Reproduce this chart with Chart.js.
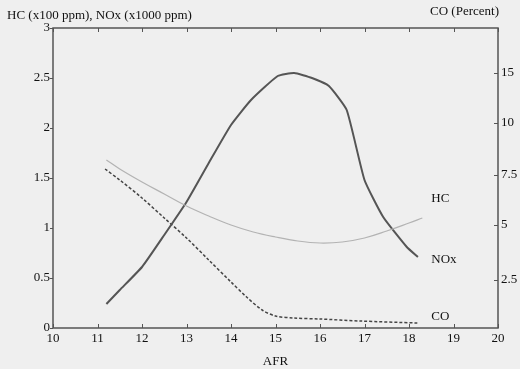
<!DOCTYPE html>
<html>
<head>
<meta charset="utf-8">
<script src="https://cdn.jsdelivr.net/npm/chart.js@4.4.1/dist/chart.umd.min.js"></script>
<style>
  html, body { margin: 0; padding: 0; background: #efefef; }
  canvas { display: block; }
</style>
</head>
<body>
<canvas id="afrChart" width="520" height="369"></canvas>
<script>
// values
const noxAfr = [11.2, 11.5, 12, 12.5, 13, 13.5, 14, 14.45, 15.05, 15.42, 15.82, 16.2, 16.6, 17, 17.42, 17.95, 18.2];
const noxVals = [0.24, 0.38, 0.61, 0.93, 1.26, 1.65, 2.03, 2.28, 2.52, 2.55, 2.50, 2.42, 2.18, 1.48, 1.11, 0.81, 0.71];

const hcAfr = [11.2, 11.5, 12, 12.5, 13, 13.5, 14, 14.5, 15, 15.5, 16, 16.5, 17, 17.5, 18, 18.3];
const hcVals = [1.68, 1.59, 1.46, 1.34, 1.22, 1.12, 1.03, 0.96, 0.91, 0.87, 0.85, 0.86, 0.90, 0.97, 1.05, 1.10];

// CO drawn against the right-hand axis (same height as the left one)
const coAfr = [11.17, 11.5, 12, 12.5, 13, 13.5, 14, 14.35, 14.7, 15, 15.4, 16, 16.9, 18.2];
const coVals = [1.59, 1.48, 1.30, 1.10, 0.90, 0.68, 0.46, 0.31, 0.18, 0.12, 0.10, 0.09, 0.07, 0.05];

const coTickAt = [0.48, 1.03, 1.53, 2.05, 2.55];
const coTickLabels = ['2.5', '5', '7.5', '10', '15'];

const toPoints = (xs, ys) => xs.map((x, i) => ({ x: x, y: ys[i] }));

const serif = 'Liberation Serif, Times New Roman, serif';
const ink = '#111';

const decor = {
  id: 'decor',
  beforeDraw(chart) {
    const ctx = chart.ctx;
    ctx.save();
    ctx.fillStyle = '#efefef';
    ctx.fillRect(0, 0, chart.width, chart.height);
    ctx.restore();
  },
  afterDraw(chart) {
    const ctx = chart.ctx;
    const a = chart.chartArea;
    const sx = chart.scales.x, sy = chart.scales.y, s2 = chart.scales.y2;
    ctx.save();
    ctx.strokeStyle = '#555';
    ctx.lineWidth = 1.5;
    ctx.strokeRect(a.left, a.top, a.right - a.left, a.bottom - a.top);

    ctx.lineWidth = 1;
    ctx.beginPath();
    sx.ticks.forEach(t => {
      const px = Math.round(sx.getPixelForValue(t.value)) + 0.5;
      ctx.moveTo(px, a.bottom); ctx.lineTo(px, a.bottom - 4);
      ctx.moveTo(px, a.top); ctx.lineTo(px, a.top + 4);
    });
    sy.ticks.forEach(t => {
      const py = Math.round(sy.getPixelForValue(t.value)) + 0.5;
      ctx.moveTo(a.left, py); ctx.lineTo(a.left - 3, py);
    });
    s2.ticks.forEach(t => {
      const py = Math.round(s2.getPixelForValue(t.value)) + 0.5;
      ctx.moveTo(a.right, py); ctx.lineTo(a.right - 4, py);
    });
    ctx.stroke();

    ctx.fillStyle = ink;
    ctx.font = '13px ' + serif;
    ctx.textBaseline = 'middle';
    ctx.textAlign = 'left';
    ctx.fillText('HC (x100 ppm), NOx (x1000 ppm)', 7, 16);
    ctx.textAlign = 'right';
    ctx.fillText('CO (Percent)', 499, 12);
    ctx.textAlign = 'center';
    ctx.fillText('AFR', (a.left + a.right) / 2, 362);

    // series names next to the curve ends
    ctx.textAlign = 'left';
    const lx = sx.getPixelForValue(18.5);
    ctx.fillText('HC', lx, sy.getPixelForValue(1.29));
    ctx.fillText('NOx', lx, sy.getPixelForValue(0.68));
    ctx.fillText('CO', lx, sy.getPixelForValue(0.11));
    ctx.restore();
  }
};

new Chart(document.getElementById('afrChart').getContext('2d'), {
  type: 'line',
  data: {
    datasets: [
      {
        label: 'HC',
        data: toPoints(hcAfr, hcVals),
        borderColor: '#b3b3b3',
        borderWidth: 1.2,
        pointRadius: 0,
        tension: 0.4,
        yAxisID: 'y'
      },
      {
        label: 'NOx',
        data: toPoints(noxAfr, noxVals),
        borderColor: '#555',
        borderWidth: 2,
        pointRadius: 0,
        tension: 0.15,
        yAxisID: 'y'
      },
      {
        label: 'CO',
        data: toPoints(coAfr, coVals),
        borderColor: '#444',
        borderWidth: 1.5,
        borderDash: [3, 2],
        pointRadius: 0,
        tension: 0.3,
        yAxisID: 'y2'
      }
    ]
  },
  options: {
    responsive: false,
    animation: false,
    layout: { padding: { top: 28, left: 0, right: 0, bottom: 0 } },
    plugins: { legend: { display: false }, tooltip: { enabled: false } },
    scales: {
      x: {
        type: 'linear',
        min: 10, max: 20,
        grid: { display: false, drawTicks: false },
        border: { display: false },
        ticks: { stepSize: 1, padding: 3, color: ink, font: { family: serif, size: 13 }, maxRotation: 0 },
        afterFit(s) { s.height = 41; }
      },
      y: {
        min: 0, max: 3,
        grid: { display: false, drawTicks: false },
        border: { display: false },
        ticks: {
          stepSize: 0.5, padding: 3, color: ink, font: { family: serif, size: 13 },
          callback: v => String(v)
        },
        afterFit(s) { s.width = 53; }
      },
      y2: {
        position: 'right',
        min: 0, max: 3,
        grid: { display: false, drawTicks: false },
        border: { display: false },
        afterBuildTicks(s) { s.ticks = coTickAt.map(v => ({ value: v })); },
        ticks: {
          padding: 3, color: ink, font: { family: serif, size: 13 },
          callback: (v, i) => coTickLabels[i]
        },
        afterFit(s) { s.width = 22; }
      }
    }
  },
  plugins: [decor]
});
</script>
</body>
</html>
